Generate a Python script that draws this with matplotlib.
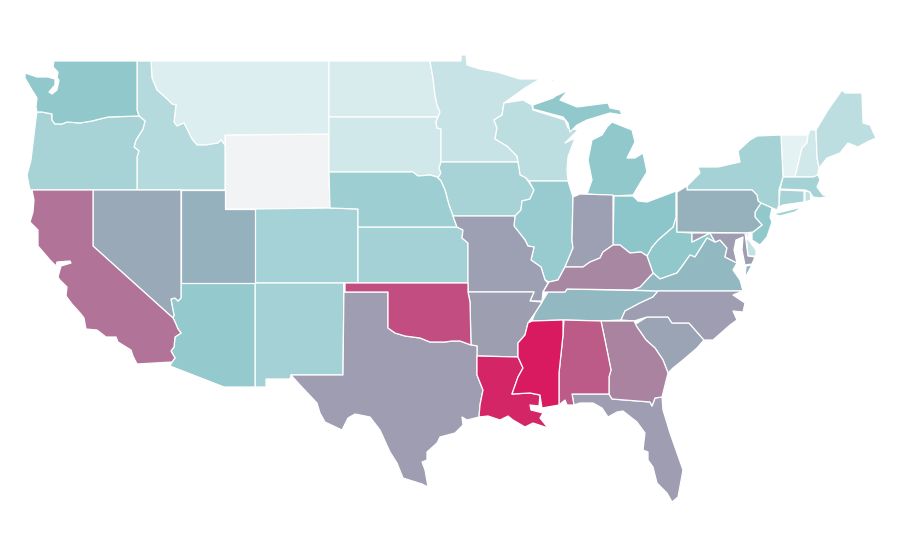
import matplotlib
matplotlib.use("Agg")
import matplotlib.pyplot as plt
from matplotlib.colors import LinearSegmentedColormap

# Choropleth index per state
state_names = ["WY","VT","MT","ND","SD","NH","MN","DE","RI","ME","WI","ID","OR","IA","CT","CO","MA","NY","NM","KS","NE",
               "AZ","IL","WA","MI","WV","NJ","OH","TN","VA","UT","PA","NV","SC","IN","MO","AR","NC","FL","TX","MD",
               "KY","GA","CA","AL","OK","LA","MS"]
state_values = [0,6.4,10.8,12.7,16.7,16.7,21,23,25,26,26,30,36.8,36.8,37,37.7,38,38,38.7,39,42,
                46,44.6,48,48,48,48,50,53.8,54,56,56.4,58.4,60,61,61,61.5,62,62,62,62,
                68,69.5,73.8,81,85,96.8,100]

# State outlines (map geometry)
outlines = {
"WA":[[(54,61),(137,61),(137,110),(139,116),(108,117),(92,121),(80,123),(67,122),(62,124),(55,124),(52,120),(52,114),(42,112),(37,112),(36,107),(37,98),(32,90),(25,78),(25,73),(37,77),(48,77),(55,79),(55,85),(49,92),(52,94),(57,90),(59,80),(57,78),(58,72),(53,67)]],
"OR":[[(37,112),(42,112),(52,114),(52,120),(55,124),(62,124),(67,122),(80,123),(92,121),(108,117),(139,116),(145,121),(143,129),(136,140),(134,147),(139,151),(137,157),(137,190),(30,190),(27,175),(31,160),(34,135),(36,118)]],
"ID":[[(137,61),(151,61),(152,78),(157,90),(166,98),(172,104),(176,105),(175,113),(174,122),(177,126),(184,123),(188,131),(192,139),(197,145),(206,145),(218,143),(221,140),(225,145),(225,190),(137,190),(137,157),(139,151),(134,147),(136,140),(143,129),(145,121),(139,116),(137,110)]],
"MT":[[(151,61),(329,61),(329,134),(225,135),(225,145),(221,140),(218,143),(206,145),(197,145),(192,139),(188,131),(184,123),(177,126),(174,122),(175,113),(176,105),(172,104),(166,98),(157,90),(152,78)]],
"WY":[[(225,135),(329,134),(329,172),(330,208),(255,209),(225,209)]],
"UT":[[(181,190),(225,190),(225,209),(255,209),(255,283),(181,283)]],
"NV":[[(93,190),(181,190),(181,298),(178,301),(175,298),(171,299),(172,305),(174,315),(173,318),(93,246)]],
"CA":[[(32,190),(93,190),(93,246),(173,318),(175,322),(178,329),(181,333),(175,337),(174,347),(171,351),(175,358),(172,362),(137,364),(133,356),(131,350),(118,342),(116,337),(106,337),(97,330),(86,329),(84,318),(81,314),(72,304),(66,296),(67,287),(60,280),(58,277),(61,266),(71,263),(70,261),(57,262),(56,266),(50,260),(38,246),(38,230),(30,222),(33,212),(34,200)]],
"AZ":[[(181,283),(255,283),(255,387),(224,387),(170,366),(172,362),(175,358),(171,351),(174,347),(175,337),(181,333),(178,329),(175,322),(173,318),(174,315),(172,305),(171,299),(175,298),(178,301),(181,298)]],
"NM":[[(255,283),(344,283),(343,375),(291,375),(290,379),(266,379),(266,387),(255,387)]],
"CO":[[(255,209),(330,208),(358,209),(358,283),(255,283)]],
"KS":[[(358,227),(457,227),(463,230),(462,238),(468,243),(468,283),(358,283)]],
"NE":[[(329,172),(413,172),(418,176),(430,175),(437,177),(441,181),(445,190),(449,205),(453,216),(457,227),(358,227),(358,209),(330,208)]],
"SD":[[(329,117),(438,117),(436,122),(437,128),(441,129),(441,162),(439,168),(441,173),(438,178),(437,177),(430,175),(418,176),(413,172),(329,172)]],
"ND":[[(329,61),(430,61),(433,78),(435,95),(437,105),(440,112),(438,117),(329,117)]],
"MN":[[(430,61),(461,61),(461,55),(466,55),(467,65),(480,69),(497,72),(510,76),(520,79),(540,79),(525,88),(504,103),(502,115),(494,120),(497,128),(495,139),(507,146),(517,156),(518,162),(441,162),(441,129),(437,128),(436,122),(438,117),(440,112),(437,105),(435,95),(433,78)]],
"IA":[[(441,162),(518,162),(520,175),(526,178),(534,190),(530,199),(522,201),(521,210),(515,216),(453,216),(449,205),(445,190),(441,181),(438,178),(441,173),(439,168)]],
"MO":[[(453,216),(515,216),(514,226),(525,240),(528,246),(534,247),(531,260),(541,267),(545,280),(548,283),(543,292),(542,301),(530,301),(534,292),(468,292),(468,243),(462,238),(463,230),(457,227)]],
"AR":[[(468,292),(534,292),(530,301),(542,302),(535,313),(528,323),(525,335),(518,343),(518,357),(477,356),(477,346),(471,345),(470,302)]],
"OK":[[(345,283),(468,283),(468,292),(470,302),(471,345),(460,341),(452,341),(445,342),(430,342),(420,338),(405,336),(395,333),(388,328),(388,292),(345,292)]],
"TX":[[(345,292),(388,292),(388,328),(395,333),(405,336),(420,338),(430,342),(445,342),(452,341),(460,341),(471,345),(477,346),(477,375),(483,390),(480,405),(479,417),(467,420),(462,417),(463,425),(455,433),(440,437),(437,443),(427,452),(427,460),(422,462),(425,470),(428,487),(422,484),(403,478),(397,463),(390,452),(380,430),(370,417),(355,414),(348,418),(342,430),(325,422),(320,413),(317,403),(300,385),(291,375),(343,375),(344,283)]],
"LA":[[(477,356),(518,357),(523,368),(518,377),(512,394),(530,393),(540,395),(539,406),(530,405),(531,410),(543,413),(540,418),(548,428),(533,423),(525,427),(513,420),(508,416),(500,420),(488,416),(479,417),(480,405),(483,390),(477,375)]],
"MS":[[(532,321),(563,320),(563,335),(559,373),(559,405),(542,408),(540,395),(530,393),(512,394),(518,377),(523,368),(518,357),(518,343),(525,335),(528,323)]],
"AL":[[(564,320),(601,321),(607,350),(611,370),(609,377),(609,394),(572,394),(574,405),(567,405),(565,400),(559,405),(559,373),(563,335)]],
"GA":[[(601,321),(634,321),(637,327),(646,340),(655,348),(663,360),(668,373),(665,385),(662,397),(655,398),(652,406),(650,402),(612,399),(609,394),(609,377),(611,370),(607,350)]],
"FL":[[(572,394),(609,394),(612,399),(650,402),(652,406),(655,398),(662,397),(663,410),(670,433),(677,453),(683,470),(678,497),(672,502),(667,493),(657,483),(653,467),(648,460),(648,452),(643,450),(645,433),(637,422),(623,411),(617,412),(608,417),(602,408),(593,403),(580,403),(574,405)]],
"SC":[[(634,325),(647,317),(668,317),(672,323),(689,323),(704,340),(697,348),(683,360),(673,368),(668,373),(663,360),(655,348),(646,340),(637,327)]],
"NC":[[(658,291),(743,291),(733,295),(745,303),(743,312),(733,311),(737,320),(730,325),(713,340),(704,340),(689,323),(672,323),(668,317),(647,317),(634,321),(621,320),(625,311),(640,303),(653,297)]],
"TN":[[(548,292),(565,292),(567,289),(658,291),(653,297),(640,303),(625,311),(621,320),(601,321),(564,320),(532,321),(535,313),(542,302)]],
"KY":[[(549,282),(558,280),(565,267),(583,267),(590,262),(600,258),(603,252),(613,245),(620,245),(630,253),(641,252),(647,256),(653,273),(640,287),(632,290),(567,289),(565,292),(548,292),(543,292)]],
"IL":[[(529,181),(568,181),(573,197),(572,240),(573,248),(565,267),(558,280),(549,282),(545,280),(541,267),(531,260),(534,247),(528,246),(525,240),(514,226),(515,216),(521,210),(522,201),(530,199),(534,190)]],
"WI":[[(504,103),(523,100),(532,105),(533,110),(565,120),(568,128),(578,130),(565,143),(575,138),(568,157),(567,170),(568,181),(529,181),(526,178),(520,175),(518,162),(517,156),(507,146),(495,139),(497,128),(494,120),(502,115)]],
"IN":[[(573,197),(580,194),(613,195),(613,245),(603,252),(600,258),(590,262),(583,267),(565,267),(573,248),(572,240)]],
"MI":[[(587,194),(592,180),(588,160),(592,140),(602,135),(607,127),(612,122),(632,130),(635,142),(627,158),(635,158),(643,153),(647,172),(642,180),(633,195),(613,196)],
      [(533,105),(553,98),(557,95),(558,95),(568,90),(560,100),(577,107),(592,105),(608,103),(610,108),(620,110),(622,115),(610,113),(587,120),(577,125),(570,132),(568,123),(563,117),(533,109)],
      [(549,81),(555,78),(553,81)]],
"OH":[[(614,196),(633,196),(638,201),(647,202),(663,196),(676,191),(676,217),(673,227),(658,240),(652,247),(647,256),(641,252),(630,253),(620,245),(613,245)]],
"PA":[[(677,192),(687,186),(687,190),(752,190),(757,195),(758,201),(761,203),(755,212),(755,217),(762,225),(753,232),(745,233),(677,232)]],
"NY":[[(687,190),(687,186),(700,173),(698,167),(718,167),(740,162),(738,151),(750,140),(757,136),(781,135),(783,177),(779,190),(779,205),(777,210),(761,203),(758,201),(757,195),(752,190)],
      [(773,214),(802,207),(795,212),(780,216)]],
"VT":[[(781,135),(808,135),(807,143),(802,148),(795,177),(783,177)]],
"NH":[[(810,130),(816,130),(817,157),(819,168),(817,177),(795,177),(802,148),(807,143),(808,135)]],
"ME":[[(816,130),(828,110),(842,90),(845,93),(862,93),(863,123),(870,125),(876,138),(867,142),(858,147),(848,143),(840,153),(827,158),(819,168),(817,157)]],
"MA":[[(783,177),(813,177),(818,175),(820,180),(817,187),(823,195),(830,196),(820,198),(813,197),(810,192),(805,190),(780,189)]],
"CT":[[(780,190),(804,191),(804,202),(783,205),(777,208),(779,205)]],
"RI":[[(805,191),(810,192),(811,200),(805,202)]],
"NJ":[[(761,203),(772,208),(770,217),(772,222),(767,237),(760,245),(752,240),(752,233),(762,225),(755,217),(755,212)]],
"DE":[[(746,233),(750,231),(747,238),(756,250),(756,256),(748,256)]],
"MD":[[(692,233),(745,233),(748,256),(755,257),(752,264),(745,265),(742,250),(743,237),(736,240),(734,250),(737,263),(725,257),(727,248),(720,240),(715,242),(710,233),(692,242)]],
"VA":[[(632,290),(658,291),(743,291),(740,280),(733,270),(737,263),(725,257),(727,248),(720,240),(715,242),(707,238),(695,257),(690,255),(683,265),(677,273),(660,279),(653,273),(640,287)],
      [(746,266),(752,265),(745,278)]],
"WV":[[(677,232),(692,233),(692,242),(710,233),(715,242),(707,238),(695,257),(690,255),(683,265),(677,273),(660,279),(653,273),(647,256),(652,247),(658,240),(673,227),(676,217),(676,191),(677,192)]],
}

cmap = LinearSegmentedColormap.from_list(
    "idx", [(0.0, "#f2f3f5"), (0.064, "#e5f2f3"), (0.5, "#8cc6ca"), (1.0, "#d91a60")])

fig = plt.figure(figsize=(9, 5.6), dpi=100, facecolor="white")
ax = fig.add_axes([0, 0, 1, 1])
ax.set_xlim(0, 900)
ax.set_ylim(560, 0)
ax.axis("off")

for name, value in zip(state_names, state_values):
    for ring in outlines[name]:
        xs, ys = zip(*ring)
        ax.fill(xs, ys, facecolor=cmap(value / 100), edgecolor="white", linewidth=0.9, joinstyle="round")

fig.savefig("out.png", dpi=100, facecolor="white")
